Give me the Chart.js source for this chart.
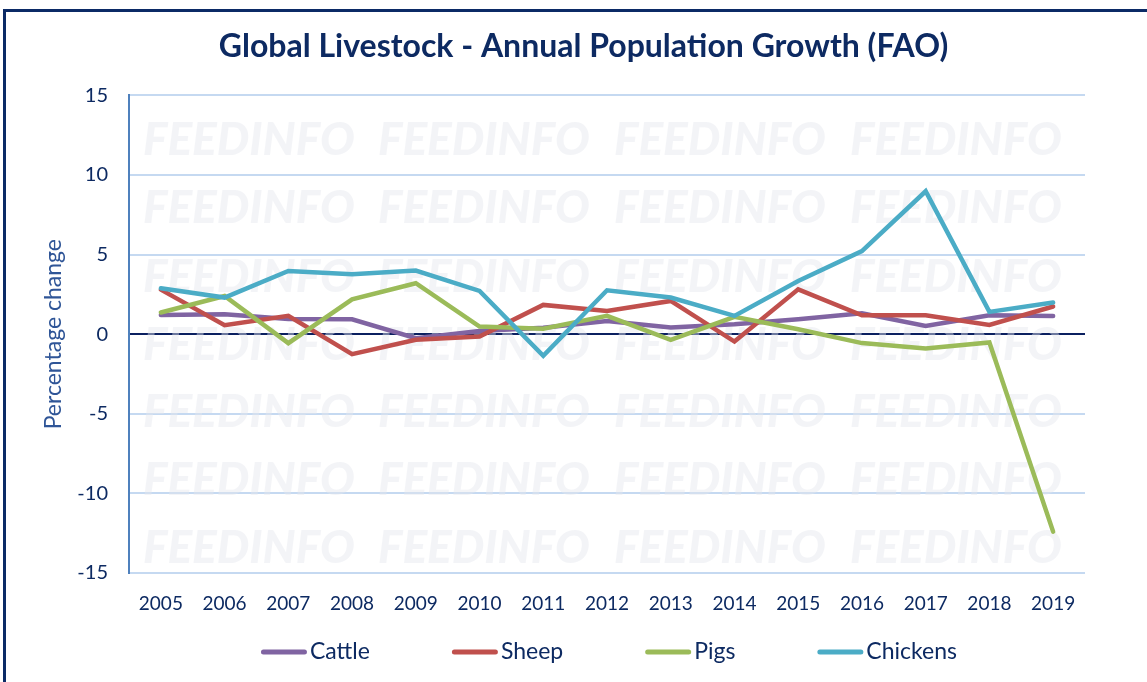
<!DOCTYPE html>
<html>
<head>
<meta charset="utf-8">
<script src="https://cdn.jsdelivr.net/npm/chart.js@4.4.1/dist/chart.umd.min.js"></script>
<style>
  html, body { margin: 0; padding: 0; background: #ffffff; overflow: hidden; }
  #frame { position: absolute; left: 3px; top: 9px; width: 1170px; height: 700px; border: 3px solid #0b2a66; box-sizing: border-box; }
  #wrap { position: absolute; left: 0; top: 0; width: 1147px; height: 682px; }
</style>
</head>
<body>
<div id="frame"></div>
<div id="wrap"><canvas id="c" width="1147" height="682"></canvas></div>
<script>
const years = ['2005','2006','2007','2008','2009','2010','2011','2012','2013','2014','2015','2016','2017','2018','2019'];
const cattle   = [1.2, 1.25, 0.95, 0.94, -0.25, 0.2, 0.4, 0.83, 0.42, 0.63, 0.94, 1.32, 0.52, 1.19, 1.15];
const sheep    = [2.8, 0.56, 1.15, -1.25, -0.35, -0.15, 1.84, 1.46, 2.09, -0.46, 2.82, 1.19, 1.19, 0.58, 1.74];
const pigs     = [1.36, 2.4, -0.56, 2.19, 3.2, 0.48, 0.35, 1.15, -0.36, 1.09, 0.31, -0.56, -0.9, -0.52, -12.4];
const chickens = [2.88, 2.3, 3.97, 3.76, 4.0, 2.72, -1.36, 2.76, 2.3, 1.15, 3.34, 5.22, 8.98, 1.4, 1.99];
const yTicks   = [15, 10, 5, 0, -5, -10, -15];
const titleText = 'Global Livestock - Annual Population Growth (FAO)';
const yTitle = 'Percentage change';
const watermark = 'FEEDINFO';

const NAVY = '#0d2a62';
const colors = { Cattle: '#8064a2', Sheep: '#c0504d', Pigs: '#9bbb59', Chickens: '#4bacc6' };

function ds(label, data, order) {
  return { label, data, borderColor: colors[label], backgroundColor: colors[label], borderWidth: 4.5,
           pointRadius: 0, tension: 0, fill: false, order, borderCapStyle: 'round', borderJoinStyle: 'miter' };
}

const watermarkPlugin = {
  id: 'wm',
  beforeDatasetsDraw(chart) {
    const { ctx, chartArea } = chart;
    ctx.save();
    ctx.beginPath();
    ctx.rect(chartArea.left, chartArea.top, chartArea.right - chartArea.left, chartArea.bottom - chartArea.top);
    ctx.clip();
    ctx.font = 'italic 900 46px Lato';
    ctx.fillStyle = 'rgba(228,231,238,0.45)';
    ctx.textBaseline = 'middle';
    const xs = [143, 378, 614, 850];
    const ys = [140, 208, 277, 345, 412, 480, 548];
    for (const y of ys) for (const x of xs) ctx.fillText(watermark, x, y);
    ctx.restore();
  }
};

// shift the title block so it is centred like the original (slightly right of the canvas centre)
const titleShift = {
  id: 'titleShift',
  afterLayout(chart) {
    const t = chart.titleBlock;
    if (t) { t.left += 11; t.right += 11; }
  }
};

// Legend drawn from the datasets (labels and colours), laid out like the Excel legend
const legendPlugin = {
  id: 'bottomLegend',
  afterDraw(chart) {
    const { ctx, chartArea } = chart;
    const lineW = 46, lineH = 5, gapText = 3, gapItem = 82, yc = 652;
    ctx.save();
    ctx.font = '23px Lato';
    ctx.textBaseline = 'middle';
    const items = chart.data.datasets.map(d => ({ label: d.label, color: d.borderColor, tw: ctx.measureText(d.label).width }));
    const total = items.reduce((s, it) => s + lineW + gapText + it.tw, 0) + gapItem * (items.length - 1);
    let x = (chartArea.left + chartArea.right) / 2 + 2 - total / 2;
    for (const it of items) {
      ctx.strokeStyle = it.color;
      ctx.lineWidth = lineH;
      ctx.lineCap = 'round';
      ctx.beginPath();
      ctx.moveTo(x + lineH / 2, yc);
      ctx.lineTo(x + lineW - lineH / 2, yc);
      ctx.stroke();
      x += lineW + gapText;
      ctx.fillStyle = NAVY;
      ctx.fillText(it.label, x, yc);
      x += it.tw + gapItem;
    }
    ctx.restore();
  }
};

new Chart(document.getElementById('c'), {
  type: 'line',
  data: {
    labels: years,
    datasets: [ds('Cattle', cattle, 3), ds('Sheep', sheep, 2), ds('Pigs', pigs, 1), ds('Chickens', chickens, 0)]
  },
  options: {
    responsive: false,
    animation: false,
    devicePixelRatio: 1,
    layout: { padding: { left: 60, right: 62, top: 0, bottom: 53 } },
    plugins: {
      tooltip: { enabled: false },
      legend: { display: false },
      title: {
        display: true, text: titleText, color: NAVY,
        font: { family: 'Lato', size: 32, weight: 'bold' },
        padding: { top: 27, bottom: 30 }
      }
    },
    scales: {
      x: {
        offset: true,
        grid: { display: false, drawTicks: false },
        border: { display: false },
        ticks: { color: NAVY, font: { family: 'Lato', size: 19 }, padding: 19, maxRotation: 0, autoSkip: false },
        afterFit(s) { s.height = 56; }
      },
      y: {
        min: -15, max: 15,
        afterBuildTicks(s) { s.ticks = yTicks.map(v => ({ value: v })); },
        grid: {
          drawTicks: false,
          color: c => c.tick && c.tick.value === 0 ? '#0b2060' : '#c5d9f1',
          lineWidth: 2
        },
        border: { display: true, color: '#4f81bd', width: 2 },
        ticks: { color: NAVY, font: { family: 'Lato', size: 20 }, padding: 21 },
        title: { display: true, text: yTitle, color: '#2f5597', font: { family: 'Lato', size: 23 }, padding: { top: -20, bottom: 0 } },
        afterFit(s) { s.width = 69; }
      }
    }
  },
  plugins: [watermarkPlugin, titleShift, legendPlugin]
});
</script>
</body>
</html>
